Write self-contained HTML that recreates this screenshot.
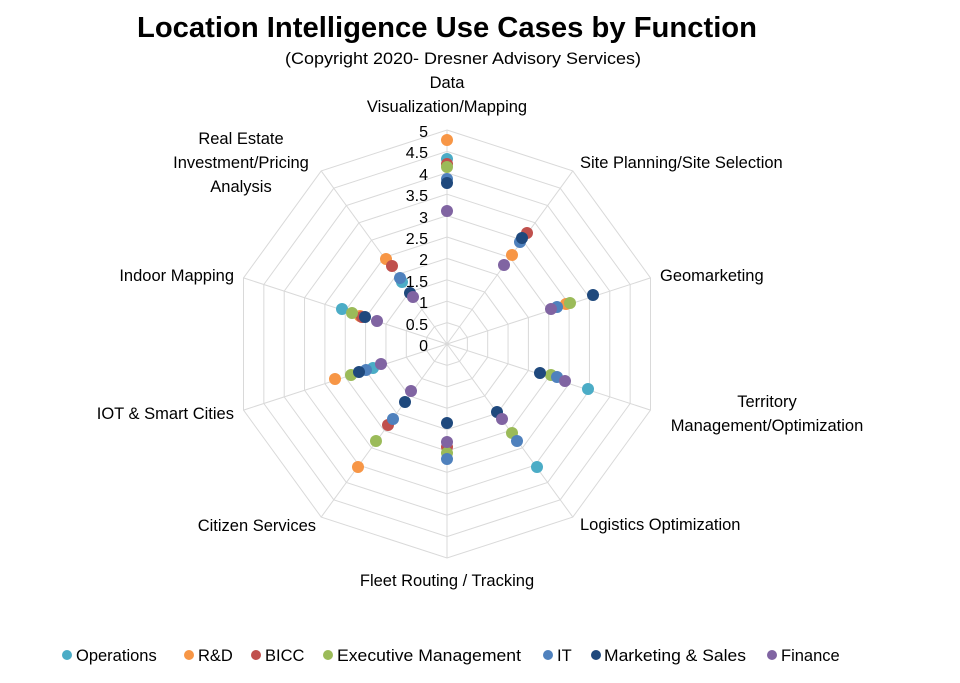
<!DOCTYPE html>
<html><head><meta charset="utf-8"><style>
body{margin:0;background:#fff}
svg{display:block;font-family:"Liberation Sans",sans-serif}
</style></head><body>
<svg width="960" height="683" viewBox="0 0 960 683">
<defs>
<polygon id="dec" points="0,-21.4 12.58,-17.31 20.35,-6.61 20.35,6.61 12.58,17.31 0,21.4 -12.58,17.31 -20.35,6.61 -20.35,-6.61 -12.58,-17.31" fill="none" stroke="#d9d9d9" stroke-width="1" vector-effect="non-scaling-stroke"/>
</defs>
<text x="447" y="37" text-anchor="middle" font-size="29" font-weight="bold" fill="#000" textLength="620" lengthAdjust="spacingAndGlyphs">Location Intelligence Use Cases by Function</text>
<text x="463" y="64" text-anchor="middle" font-size="17" fill="#000" textLength="356" lengthAdjust="spacingAndGlyphs">(Copyright 2020- Dresner Advisory Services)</text>
<g transform="translate(447,344)">
<use href="#dec" transform="scale(1)"/><use href="#dec" transform="scale(2)"/><use href="#dec" transform="scale(3)"/><use href="#dec" transform="scale(4)"/><use href="#dec" transform="scale(5)"/><use href="#dec" transform="scale(6)"/><use href="#dec" transform="scale(7)"/><use href="#dec" transform="scale(8)"/><use href="#dec" transform="scale(9)"/><use href="#dec" transform="scale(10)"/>
<g stroke="#d9d9d9" stroke-width="1">
<line x1="0" y1="0" x2="0" y2="-214"/><line x1="0" y1="0" x2="125.8" y2="-173.1"/><line x1="0" y1="0" x2="203.5" y2="-66.1"/><line x1="0" y1="0" x2="203.5" y2="66.1"/><line x1="0" y1="0" x2="125.8" y2="173.1"/><line x1="0" y1="0" x2="0" y2="214"/><line x1="0" y1="0" x2="-125.8" y2="173.1"/><line x1="0" y1="0" x2="-203.5" y2="66.1"/><line x1="0" y1="0" x2="-203.5" y2="-66.1"/><line x1="0" y1="0" x2="-125.8" y2="-173.1"/>
</g>
</g>
<g font-size="16" fill="#000" text-anchor="end">
<text x="428" y="137">5</text><text x="428" y="158">4.5</text><text x="428" y="180">4</text><text x="428" y="201">3.5</text><text x="428" y="223">3</text><text x="428" y="244">2.5</text><text x="428" y="265">2</text><text x="428" y="287">1.5</text><text x="428" y="308">1</text><text x="428" y="330">0.5</text><text x="428" y="351">0</text>
</g>
<g font-size="16.5" fill="#000">
<text x="447" y="88" text-anchor="middle">Data</text>
<text x="447" y="112" text-anchor="middle">Visualization/Mapping</text>
<text x="580" y="168">Site Planning/Site Selection</text>
<text x="660" y="281">Geomarketing</text>
<text x="767" y="407" text-anchor="middle">Territory</text>
<text x="767" y="431" text-anchor="middle">Management/Optimization</text>
<text x="580" y="530">Logistics Optimization</text>
<text x="447" y="586" text-anchor="middle">Fleet Routing / Tracking</text>
<text x="316" y="531" text-anchor="end">Citizen Services</text>
<text x="234" y="419" text-anchor="end">IOT &amp; Smart Cities</text>
<text x="234" y="281" text-anchor="end">Indoor Mapping</text>
<text x="241" y="144" text-anchor="middle">Real Estate</text>
<text x="241" y="168" text-anchor="middle">Investment/Pricing</text>
<text x="241" y="192" text-anchor="middle">Analysis</text>
</g>
<g>
<!-- Operations -->
<circle cx="447" cy="159" r="6" fill="#4bacc6"/><circle cx="588" cy="389" r="6" fill="#4bacc6"/><circle cx="537" cy="467" r="6" fill="#4bacc6"/><circle cx="373" cy="368" r="6" fill="#4bacc6"/><circle cx="342" cy="309" r="6" fill="#4bacc6"/><circle cx="402" cy="282" r="6" fill="#4bacc6"/>
<!-- R&D -->
<circle cx="447" cy="140" r="6" fill="#f79646"/><circle cx="512" cy="255" r="6" fill="#f79646"/><circle cx="566" cy="304" r="6" fill="#f79646"/><circle cx="358" cy="467" r="6" fill="#f79646"/><circle cx="335" cy="379" r="6" fill="#f79646"/><circle cx="360" cy="316" r="6" fill="#f79646"/><circle cx="386" cy="259" r="6" fill="#f79646"/>
<!-- BICC -->
<circle cx="447" cy="164" r="6" fill="#c0504d"/><circle cx="527" cy="233" r="6" fill="#c0504d"/><circle cx="447" cy="447" r="6" fill="#c0504d"/><circle cx="388" cy="425" r="6" fill="#c0504d"/><circle cx="362" cy="317" r="6" fill="#c0504d"/><circle cx="392" cy="266" r="6" fill="#c0504d"/>
<!-- Exec -->
<circle cx="447" cy="167" r="6" fill="#9bbb59"/><circle cx="570" cy="303" r="6" fill="#9bbb59"/><circle cx="551" cy="375" r="6" fill="#9bbb59"/><circle cx="512" cy="433" r="6" fill="#9bbb59"/><circle cx="447" cy="453" r="6" fill="#9bbb59"/><circle cx="376" cy="441" r="6" fill="#9bbb59"/><circle cx="351" cy="375" r="6" fill="#9bbb59"/><circle cx="352" cy="313" r="6" fill="#9bbb59"/>
<!-- IT -->
<circle cx="447" cy="179" r="6" fill="#4f81bd"/><circle cx="520" cy="242" r="6" fill="#4f81bd"/><circle cx="557" cy="307" r="6" fill="#4f81bd"/><circle cx="557" cy="377" r="6" fill="#4f81bd"/><circle cx="517" cy="441" r="6" fill="#4f81bd"/><circle cx="447" cy="459" r="6" fill="#4f81bd"/><circle cx="393" cy="419" r="6" fill="#4f81bd"/><circle cx="366" cy="370" r="6" fill="#4f81bd"/><circle cx="400" cy="278" r="6" fill="#4f81bd"/>
<!-- Marketing -->
<circle cx="447" cy="183" r="6" fill="#1f497d"/><circle cx="522" cy="238" r="6" fill="#1f497d"/><circle cx="593" cy="295" r="6" fill="#1f497d"/><circle cx="540" cy="373" r="6" fill="#1f497d"/><circle cx="497" cy="412" r="6" fill="#1f497d"/><circle cx="447" cy="423" r="6" fill="#1f497d"/><circle cx="405" cy="402" r="6" fill="#1f497d"/><circle cx="359" cy="372" r="6" fill="#1f497d"/><circle cx="365" cy="317" r="6" fill="#1f497d"/><circle cx="410" cy="293" r="6" fill="#1f497d"/>
<!-- Finance -->
<circle cx="447" cy="211" r="6" fill="#8064a2"/><circle cx="504" cy="265" r="6" fill="#8064a2"/><circle cx="551" cy="309" r="6" fill="#8064a2"/><circle cx="565" cy="381" r="6" fill="#8064a2"/><circle cx="502" cy="419" r="6" fill="#8064a2"/><circle cx="447" cy="442" r="6" fill="#8064a2"/><circle cx="411" cy="391" r="6" fill="#8064a2"/><circle cx="381" cy="364" r="6" fill="#8064a2"/><circle cx="377" cy="321" r="6" fill="#8064a2"/><circle cx="413" cy="297" r="6" fill="#8064a2"/>
</g>
<g font-size="16.5" fill="#000">
<circle cx="67" cy="655" r="5" fill="#4bacc6"/><text x="76" y="661">Operations</text>
<circle cx="189" cy="655" r="5" fill="#f79646"/><text x="198" y="661">R&amp;D</text>
<circle cx="256" cy="655" r="5" fill="#c0504d"/><text x="265" y="661">BICC</text>
<circle cx="328" cy="655" r="5" fill="#9bbb59"/><text x="337" y="661" textLength="184" lengthAdjust="spacingAndGlyphs">Executive Management</text>
<circle cx="548" cy="655" r="5" fill="#4f81bd"/><text x="557" y="661">IT</text>
<circle cx="596" cy="655" r="5" fill="#1f497d"/><text x="604" y="661" textLength="142" lengthAdjust="spacingAndGlyphs">Marketing &amp; Sales</text>
<circle cx="772" cy="655" r="5" fill="#8064a2"/><text x="781" y="661">Finance</text>
</g>
</svg>
</body></html>
